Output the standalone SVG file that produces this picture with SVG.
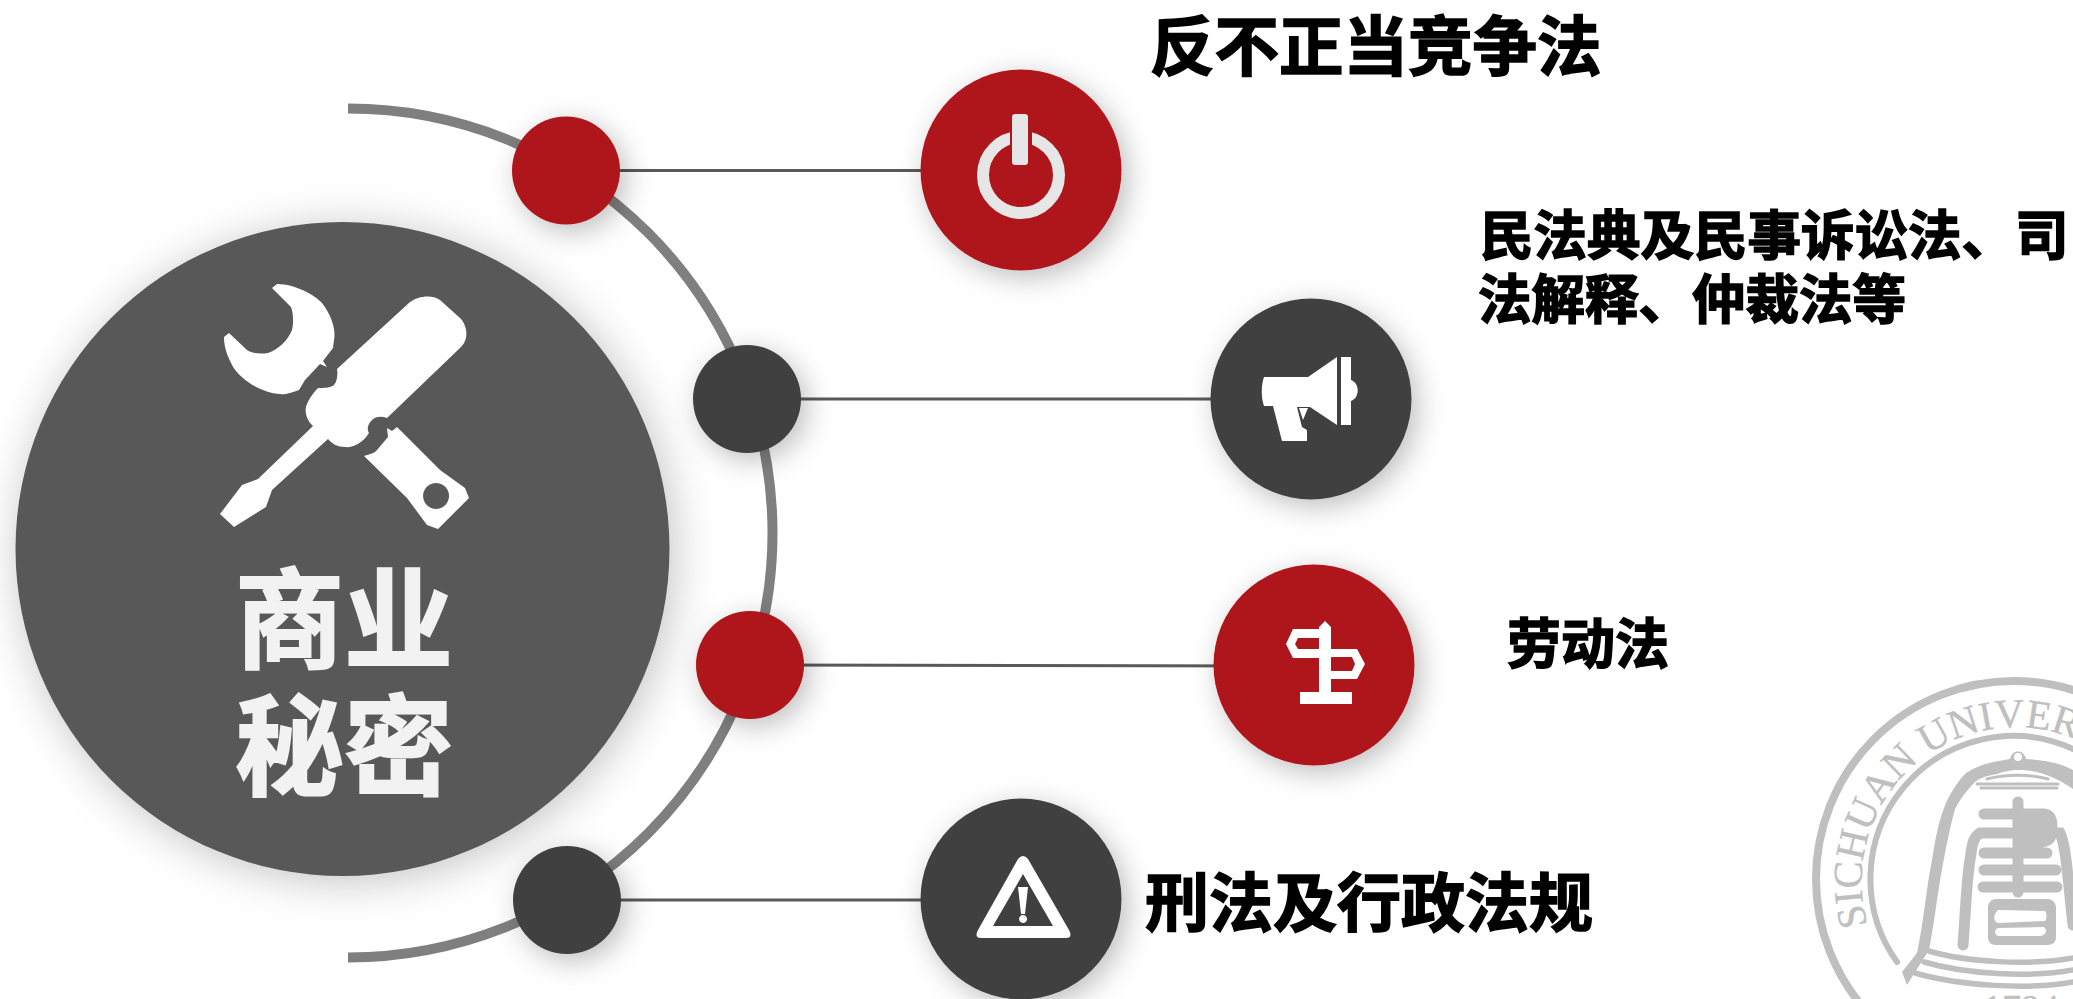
<svg xmlns="http://www.w3.org/2000/svg" width="2073" height="999" viewBox="0 0 2073 999">
<defs>
<filter id="sh" x="-40%" y="-40%" width="190%" height="190%"><feDropShadow dx="6" dy="7" stdDeviation="14" flood-color="#000" flood-opacity="0.26"/></filter>
<filter id="shm" x="-20%" y="-20%" width="140%" height="140%"><feDropShadow dx="4" dy="5" stdDeviation="22" flood-color="#000" flood-opacity="0.24"/></filter>
<path id="sealArc" d="M1868 925A154 154 0 1 1 2160 935"/>
</defs>
<style>
text{font-family:"Noto Sans CJK SC","Liberation Sans",sans-serif;font-weight:700}
.lbl{fill:#000;stroke:#000;stroke-width:1.6}
.ctr{fill:#f2f2f2;stroke:#f2f2f2;stroke-width:2}
.red{fill:#ae141b}.dark{fill:#404040}
.seal{fill:none;stroke:#bfbfbf;stroke-linecap:round}
.sf{fill:#bfbfbf}
.serif{font-family:"Liberation Serif",serif;font-weight:400;fill:#bfbfbf;stroke:#bfbfbf;stroke-width:.4}
.w{fill:#fff}
</style>
<rect width="2073" height="999" fill="#fff"/>
<g id="seal">
<circle class="seal" cx="2014" cy="879" r="198" stroke-width="8"/>
<path class="seal" stroke-width="6" d="M1897 962A143 143 0 0 1 2073 749"/>
<text class="serif" font-size="41"><textPath href="#sealArc">SICHUAN UNIVERS</textPath></text>
<path class="sf" d="M1907 985L1902 972L1917 953C1924 920 1926 890 1932 860C1936 835 1939 820 1946 803C1952 790 1959 780 1966 773C1975 767 1985 764 1993 762L2010 759C2012 749 2024 749 2026 759C2045 760 2060 763 2073 770V789C2060 780 2040 770 2020 770C2010 770 2003 772 1997 774C1985 776 1978 779 1975 782C1967 790 1960 799 1955 809C1950 827 1946 847 1942 869C1937 897 1934 925 1929 950Z"/>
<circle cx="2018" cy="757" r="4" fill="#fff"/>
<path class="seal" stroke-width="3" d="M1977 784H2058M1981 788H2057"/>
<path class="seal" stroke-width="3" d="M1987 779C2005 774 2030 774 2048 779"/>
<path class="seal" stroke-width="11" d="M2018 802V892M1984 814H2044C2050 814 2052 820 2052 826C2052 838 2050 841 2042 842H2022M2024 824H2048M1984 853H2047M1984 870H2056M1983 887H2057M1963 945C1966 905 1967 875 1970 860C1972 845 1973 837 1980 833H2060C2066 845 2068 880 2073 925"/>
<path class="sf" fill-rule="evenodd" d="M1996 899H2047C2053 899 2056 903 2056 908V937C2056 942 2053 945 2047 945H1996C1991 945 1988 942 1988 937V908C1988 903 1991 899 1996 899ZM1998 910C1993 915 1993 921 1998 923L2045 921C2047 918 2047 913 2045 911ZM1998 928C1994 930 1994 934 1998 936H2040C2047 935 2047 929 2044 927Z"/>
<path class="seal" stroke-width="5.500" d="M1929 951C1965 962 2030 966 2073 958M1924 962C1965 974 2030 978 2073 970M1915 973C1960 986 2030 990 2073 982"/>
<text class="serif" x="1983" y="1021" font-size="38">1794</text>
</g>
<g id="connectors" fill="none" stroke-width="3">
<path id="arc" d="M348 108.500A424.500 424.500 0 0 1 348 957.500" stroke="#7f7f7f" stroke-width="10"/>
<path d="M566 170.500H1021" stroke="#595959"/>
<path d="M747 399H1311" stroke="#595959"/>
<path d="M750 665L1314 666" stroke="#595959"/>
<path d="M567 900H1021" stroke="#595959"/>
</g>
<g id="center">
<circle cx="342.500" cy="549" r="327" fill="#595959" filter="url(#shm)"/>
<g class="w">
<path d="M272 288L277 284C295 284 315 295 322 303C332 316 336 330 334 340L333 348L323 361L327 367L320 364L305 380L299 390C290 393 285 395 280 394C262 393 240 380 232 365C227 355 224 347 224 337L229 333L247 350C253 354 262 354 268 353C278 350 288 340 292 330C294 322 293 312 291 307Z"/>
<path d="M337 369L410 302C418 296 432 294 440 300L460 318C468 326 469 340 460 348L387 418C382 416 376 416 372 420C367 425 367 430 369 433C362 444 352 448 345 447C338 447 332 444 328 439L272 490L266 507L234 527L220 514L242 485L258 479L313 426C306 420 304 410 307 404C310 397 314 392 318 388C324 388 330 388 334 385C337 382 338 375 337 369Z"/>
<path fill-rule="evenodd" d="M364 456C370 454 375 453 377 450L388 437L387 428L392 431L397 427L440 470L465 488L469 498L438 529L427 525L407 498ZM436 483a13 13 0 1 0 .1 0Z"/>
</g>
<text class="ctr" x="344" y="660" font-size="109" text-anchor="middle">商业</text>
<text class="ctr" x="344" y="787" font-size="109" text-anchor="middle">秘密</text>
</g>
<g id="dot1"><circle class="red" cx="566" cy="170.500" r="54" filter="url(#sh)"/></g>
<g id="dot2"><circle class="dark" cx="747" cy="399" r="54" filter="url(#sh)"/></g>
<g id="dot3"><circle class="red" cx="750" cy="665" r="54" filter="url(#sh)"/></g>
<g id="dot4"><circle class="dark" cx="567" cy="900" r="54" filter="url(#sh)"/></g>
<g id="node1">
<circle class="red" cx="1021" cy="170" r="100.500" filter="url(#sh)"/>
<circle cx="1021" cy="175" r="38" fill="none" stroke="#e6e6e6" stroke-width="12"/>
<rect x="1010" y="112" width="22" height="59" rx="4" fill="#ae141b"/>
<rect x="1012" y="114" width="16" height="51" rx="3" fill="#e6e6e6"/>
</g>
<g id="node2">
<circle class="dark" cx="1311" cy="399" r="100.500" filter="url(#sh)"/>
<path class="w" d="M1264 377H1308L1337 357V425L1310 407H1297L1302 427L1307 430V441H1282L1273 406H1264C1261 398 1261 385 1264 377Z"/>
<path class="w" d="M1299 408H1308L1303 420Z"/>
<path class="w" d="M1341 357H1351V380C1360 383 1360 398 1351 401V425H1341Z"/>
</g>
<g id="node3">
<circle class="red" cx="1314" cy="665" r="100.500" filter="url(#sh)"/>
<path class="w" fill-rule="evenodd" d="M1319 627L1325 621L1331 627V649H1357L1365 664L1357 679H1331V692H1352V704H1300V692H1319V658H1293L1286 644L1293 629H1319ZM1319 638H1298L1295 644L1298 649H1319ZM1331 657V671H1352L1355 664L1352 657Z"/>
</g>
<g id="node4">
<circle class="dark" cx="1021" cy="899" r="100.500" filter="url(#sh)"/>
<path class="w" fill-rule="evenodd" d="M1018 859Q1023 853 1028 859L1069 930Q1073 938 1066 938H981Q974 938 978 930ZM1023 874L993 926H1053Z"/>
<path class="w" d="M1018 887H1028L1025 914H1021ZM1023 915a4 4 0 1 0 .1 0Z"/>
</g>
<g id="label1"><text class="lbl" x="1150" y="70" font-size="64.500">反不正当竞争法</text></g>
<g id="label2"><text class="lbl" x="1480" y="255" font-size="53.500">民法典及民事诉讼法、司</text><text class="lbl" x="1478" y="319" font-size="53.500">法解释、仲裁法等</text></g>
<g id="label3"><text class="lbl" x="1507" y="664" font-size="54">劳动法</text></g>
<g id="label4"><text class="lbl" x="1145" y="926" font-size="64">刑法及行政法规</text></g>
</svg>
